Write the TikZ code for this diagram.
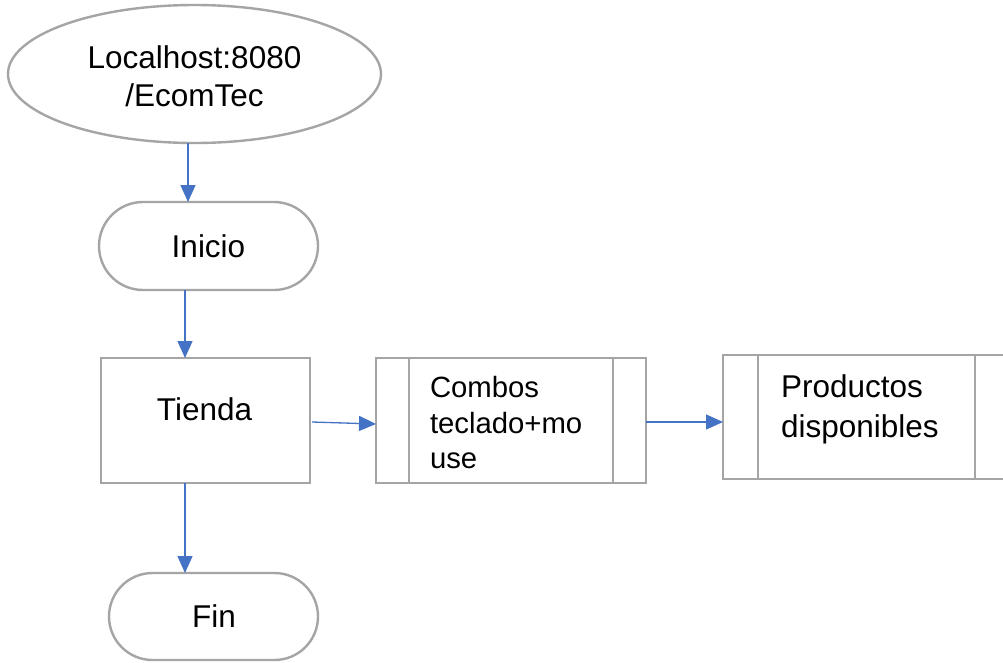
\documentclass[tikz,border=0pt]{standalone}
\usepackage{fontspec}
\setmainfont{Liberation Sans}
\usetikzlibrary{shapes.geometric,arrows.meta}
\definecolor{boxgray}{HTML}{A5A5A5}
\definecolor{arrblue}{HTML}{4472C4}
\tikzset{
  shapebox/.style={draw=boxgray, line width=2.4pt, inner sep=0pt, outer sep=0pt, fill=white},
  arr/.style={draw=arrblue, line width=1.3pt, -{Triangle[length=17pt,width=15pt]}},
  txt/.style={inner sep=0pt, outer sep=0pt, font=\fontsize{31.5}{37}\selectfont},
  smalltxt/.style={inner sep=0pt, outer sep=0pt, font=\fontsize{29.3}{35}\selectfont}
}
\begin{document}
\begin{tikzpicture}[x=1pt,y=-1pt]
\useasboundingbox (0,0) rectangle (1003,662);
\clip (0,0) rectangle (1003,662);
\fill[white] (0,0) rectangle (1003,662);
% shapes
\node[shapebox, ellipse, minimum width=373pt, minimum height=138pt] (ell) at (194.5,74) {};
\node[shapebox, rectangle, rounded corners=44pt, minimum width=219pt, minimum height=88pt] (ini) at (208.5,246) {};
\node[shapebox, rectangle, minimum width=209pt, minimum height=125pt] (tie) at (205.5,420.5) {};
\node[shapebox, rectangle, rounded corners=43.5pt, minimum width=209pt, minimum height=87pt] (fin) at (213.5,616.5) {};
\node[shapebox, rectangle, minimum width=270pt, minimum height=125pt] (com) at (511,420.5) {};
\draw[boxgray, line width=2.4pt] ([xshift=33pt]com.north west) -- ([xshift=33pt]com.south west);
\draw[boxgray, line width=2.4pt] ([xshift=-33pt]com.north east) -- ([xshift=-33pt]com.south east);
\node[shapebox, rectangle, minimum width=287pt, minimum height=124pt] (pro) at (866.5,417) {};
\draw[boxgray, line width=2.4pt] ([xshift=35pt]pro.north west) -- ([xshift=35pt]pro.south west);
\draw[boxgray, line width=2.4pt] ([xshift=-35pt]pro.north east) -- ([xshift=-35pt]pro.south east);
% texts
\node[txt, anchor=base] (t1) at (194.5,68) {Localhost:8080};
\node[txt, anchor=base] (t2) at (194.5,106) {/EcomTec};
\node[txt, anchor=base] (t3) at (208.5,257) {Inicio};
\node[txt, anchor=base] (t4) at (204.5,420) {Tienda};
\node[txt, anchor=base] (t5) at (214,627) {Fin};
\node[smalltxt, anchor=base west] (c1) at (430,397) {Combos};
\node[smalltxt, anchor=base west] (c2) at (430,433) {teclado+mo};
\node[smalltxt, anchor=base west] (c3) at (430,468) {use};
\node[txt, anchor=base west] (p1) at (781,397) {Productos};
\node[txt, anchor=base west] (p2) at (781,437) {disponibles};
% connectors
\draw[arr] ([xshift=-6.5pt]ell.south) -- ([xshift=-20.5pt]ini.north);
\draw[arr] ([xshift=-23.5pt]ini.south) -- ([xshift=-20.5pt]tie.north);
\draw[arr] ([xshift=-20.5pt]tie.south) -- ([xshift=-28.5pt]fin.north);
\draw[arr] ([xshift=2pt,yshift=-1.5pt]tie.east) -- ([yshift=-3.5pt]com.west);
\draw[arr] ([yshift=-1.5pt]com.east) -- ([yshift=-5pt]pro.west);
\end{tikzpicture}
\end{document}
